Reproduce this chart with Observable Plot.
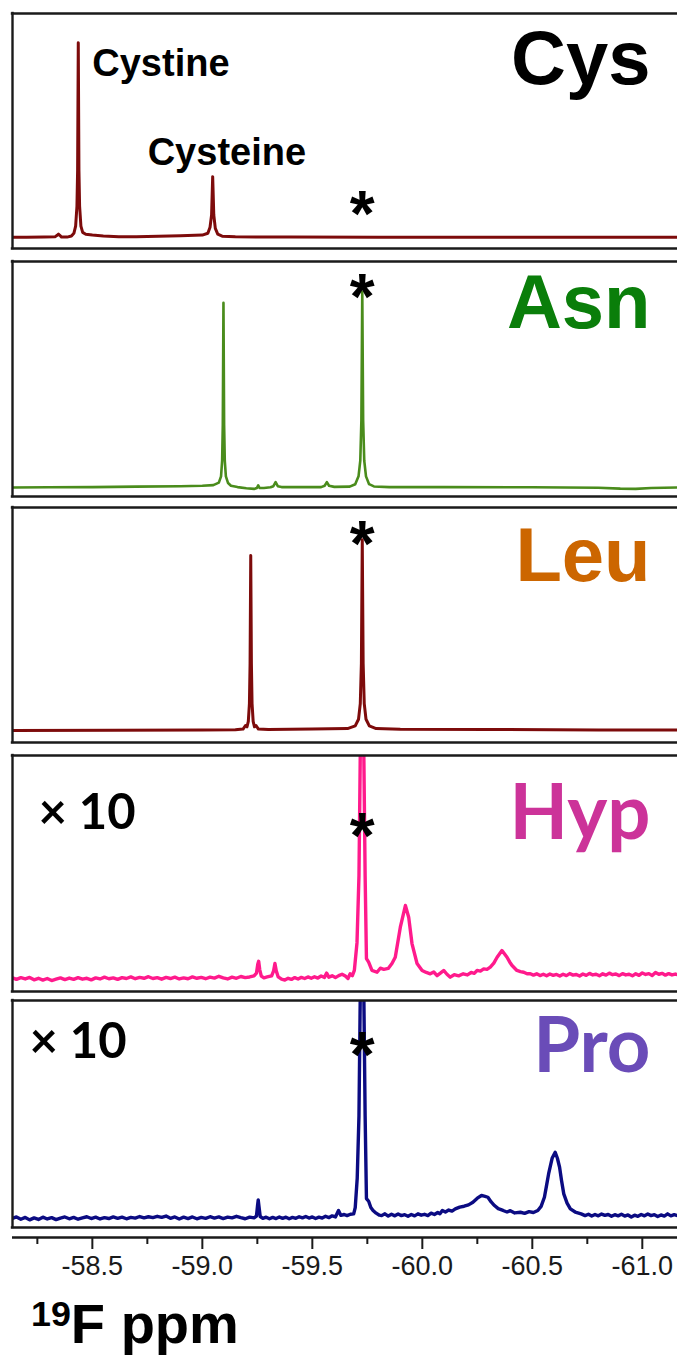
<!DOCTYPE html>
<html><head><meta charset="utf-8">
<script src="https://cdn.jsdelivr.net/npm/d3@7"></script>
<script src="https://cdn.jsdelivr.net/npm/@observablehq/plot@0.6"></script>
<style>
body{margin:0;background:#fff;}
#chart{position:relative;width:677px;height:1355px;overflow:hidden;background:#fff;}
#chart svg{position:absolute;left:0;overflow:visible;}
#xlabel{position:absolute;left:31px;top:1296px;font:bold 56px "Liberation Sans",Arial,sans-serif;line-height:56px;color:#000;white-space:nowrap;}
#xlabel span{font-size:0.64em;position:relative;top:-17px;}
</style></head><body><div id="chart"><div id="xlabel"><span>19</span>F ppm</div></div>
<script>
// ---------- data ----------
const ppmDomain = [-58.137, -61.16];
const majorTicks = [-58.5, -59.0, -59.5, -60.0, -60.5, -61.0];
const majorTickLabels = ["-58.5", "-59.0", "-59.5", "-60.0", "-60.5", "-61.0"];
const minorTicks = [-58.25, -58.75, -59.25, -59.75, -60.25, -60.75];
const panelNames = ["Cys", "Asn", "Leu", "Hyp", "Pro"];
const scaleLabels = ["", "", "", "× 10", "× 10"];
const referencePeak = -59.727; // marked with *
const cystinePeak = -58.436;
const cysteinePeak = -59.047;

const cysSpectrum = [
[-58.137,0.0],[-58.20,0.0],[-58.28,0.1],[-58.33,0.2],[-58.340,0.9],[-58.346,1.4],[-58.352,0.9],[-58.360,0.1],[-58.385,0.1],[-58.405,0.6],[-58.416,1.8],[-58.424,5],[-58.430,14],[-58.433,30],[-58.436,86.9],[-58.439,30],[-58.442,14],[-58.448,5],[-58.456,2.2],[-58.47,1.4],[-58.50,1.0],[-58.55,0.6],[-58.62,0.2],[-58.70,0.3],[-58.80,0.5],[-58.90,0.7],[-59.00,1.0],[-59.025,1.8],[-59.035,4.5],[-59.042,10],[-59.047,27.1],[-59.052,10],[-59.059,4],[-59.07,1.4],[-59.09,0.5],[-59.15,0.2],[-59.40,0.1],[-59.80,0.0],[-60.40,0.0],[-61.16,0.0]
];
const asnSpectrum = [
[-58.137,0.0],[-58.30,0.1],[-58.50,0.2],[-58.70,0.4],[-58.90,0.6],[-59.00,0.8],[-59.05,1.1],[-59.075,2.2],[-59.085,5],[-59.090,12],[-59.093,28],[-59.096,82.6],[-59.099,28],[-59.102,12],[-59.107,5],[-59.117,2.0],[-59.13,0.8],[-59.16,0.2],[-59.20,-0.3],[-59.235,-0.6],[-59.248,-0.2],[-59.254,1.0],[-59.260,-0.2],[-59.28,-0.2],[-59.31,0.1],[-59.323,0.6],[-59.333,2.4],[-59.343,0.6],[-59.36,0.2],[-59.45,0.2],[-59.54,0.2],[-59.556,0.8],[-59.566,2.4],[-59.576,0.8],[-59.60,0.3],[-59.67,0.4],[-59.695,1.5],[-59.710,5],[-59.718,12],[-59.723,30],[-59.727,87.5],[-59.731,30],[-59.736,12],[-59.744,5],[-59.758,1.5],[-59.78,0.5],[-59.85,0.2],[-60.10,0.2],[-60.50,0.1],[-60.80,-0.1],[-60.90,-0.5],[-60.97,-0.6],[-61.04,-0.2],[-61.16,0.0]
];
const leuSpectrum = [
[-58.137,0.0],[-58.60,0.1],[-59.00,0.2],[-59.15,0.3],[-59.185,0.6],[-59.196,2.2],[-59.203,1.6],[-59.209,4],[-59.214,12],[-59.217,30],[-59.220,78.2],[-59.223,30],[-59.226,12],[-59.231,4],[-59.237,1.6],[-59.244,2.2],[-59.255,0.6],[-59.30,0.4],[-59.50,0.6],[-59.66,0.8],[-59.695,2.0],[-59.710,5],[-59.718,12],[-59.723,30],[-59.727,85.2],[-59.731,30],[-59.736,12],[-59.744,5],[-59.759,2.0],[-59.79,0.8],[-59.90,0.5],[-60.30,0.4],[-60.80,0.2],[-61.16,0.2]
];
const hypSpectrum = [
[-58.137,-0.6],[-58.155,-1.3],[-58.175,-0.5],[-58.195,-1.1],[-58.215,-0.4],[-58.235,-1.5],[-58.255,-0.8],[-58.275,-1.6],[-58.295,-0.9],[-58.315,-1.8],[-58.335,-1.2],[-58.355,-0.6],[-58.375,-1.4],[-58.395,-0.7],[-58.415,-1.3],[-58.435,-0.5],[-58.455,-1.2],[-58.475,-0.8],[-58.495,-1.5],[-58.515,-0.6],[-58.535,-1.1],[-58.555,-0.3],[-58.575,-1.0],[-58.595,-0.6],[-58.615,-1.3],[-58.635,-0.5],[-58.655,-0.9],[-58.675,-0.2],[-58.695,-1.0],[-58.715,-0.4],[-58.735,-0.8],[-58.755,-0.1],[-58.775,-0.9],[-58.795,-0.5],[-58.815,-1.2],[-58.835,-0.4],[-58.855,-0.9],[-58.875,-0.3],[-58.895,-1.1],[-58.915,-0.6],[-58.935,-1.0],[-58.955,-0.2],[-58.975,-0.8],[-58.995,-0.4],[-59.015,-1.0],[-59.035,-0.3],[-59.055,-0.7],[-59.075,0.1],[-59.095,-0.6],[-59.115,-1.1],[-59.135,-0.3],[-59.155,-0.8],[-59.175,0.0],[-59.195,-0.5],[-59.215,-0.2],[-59.235,0.3],[-59.246,1.5],[-59.252,5.5],[-59.256,6.8],[-59.261,3.0],[-59.268,0.2],[-59.280,-0.6],[-59.295,-0.2],[-59.315,0.3],[-59.324,2.5],[-59.330,5.8],[-59.336,2.5],[-59.345,-0.2],[-59.360,-1.2],[-59.375,-1.6],[-59.390,-0.8],[-59.405,-1.3],[-59.420,-0.5],[-59.435,-1.1],[-59.450,-0.4],[-59.465,-0.9],[-59.480,-0.2],[-59.495,-0.8],[-59.510,-0.1],[-59.525,-0.7],[-59.540,0.2],[-59.555,-0.4],[-59.565,1.5],[-59.575,-0.3],[-59.590,0.3],[-59.605,-0.5],[-59.620,0.4],[-59.635,1.0],[-59.650,0.2],[-59.662,-0.9],[-59.672,1.2],[-59.682,0.4],[-59.691,2.7],[-59.703,15],[-59.712,45],[-59.718,100],[-59.7205,300],[-59.7315,300],[-59.734,100],[-59.740,45],[-59.746,8.0],[-59.756,6.4],[-59.771,2.7],[-59.794,1.9],[-59.809,3.7],[-59.825,3.2],[-59.845,3.6],[-59.862,5.8],[-59.877,8.6],[-59.900,22],[-59.923,31.7],[-59.938,26.5],[-59.953,14.7],[-59.976,5.8],[-59.999,2.7],[-60.018,1.8],[-60.036,1.2],[-60.052,2.0],[-60.067,0.4],[-60.082,1.5],[-60.097,2.7],[-60.112,1.0],[-60.127,-0.3],[-60.145,0.8],[-60.165,0.3],[-60.186,1.2],[-60.205,0.7],[-60.222,1.8],[-60.236,1.4],[-60.249,2.7],[-60.264,2.4],[-60.279,3.4],[-60.294,3.2],[-60.309,4.2],[-60.325,6.0],[-60.340,8.6],[-60.362,11.6],[-60.374,10.0],[-60.385,8.6],[-60.397,6.5],[-60.408,4.9],[-60.430,2.7],[-60.446,2.2],[-60.461,1.9],[-60.476,1.2],[-60.491,1.2],[-60.505,0.6],[-60.52,1.2],[-60.535,0.4],[-60.55,1.0],[-60.565,0.3],[-60.58,1.1],[-60.595,0.5],[-60.61,0.9],[-60.625,0.2],[-60.64,1.0],[-60.655,0.4],[-60.67,1.3],[-60.685,0.6],[-60.70,0.9],[-60.715,0.2],[-60.73,1.1],[-60.745,0.5],[-60.76,1.4],[-60.775,0.7],[-60.79,1.0],[-60.805,0.3],[-60.82,1.2],[-60.835,0.6],[-60.85,1.5],[-60.865,0.8],[-60.88,1.1],[-60.895,0.4],[-60.91,1.3],[-60.925,0.7],[-60.94,1.0],[-60.955,0.3],[-60.97,1.2],[-60.985,0.5],[-61.00,1.6],[-61.015,0.9],[-61.03,1.3],[-61.045,0.4],[-61.06,1.8],[-61.075,1.0],[-61.09,1.4],[-61.105,0.6],[-61.12,1.3],[-61.135,0.7],[-61.15,1.1],[-61.16,0.8]
];
const proSpectrum = [
[-58.137,-0.8],[-58.155,-0.2],[-58.175,-1.2],[-58.195,-0.4],[-58.215,-1.5],[-58.235,-0.6],[-58.255,-1.3],[-58.275,-0.3],[-58.295,-1.1],[-58.315,-0.5],[-58.335,-1.4],[-58.355,-0.7],[-58.375,-0.2],[-58.395,-1.0],[-58.415,-0.4],[-58.435,-1.2],[-58.455,-0.6],[-58.475,-0.1],[-58.495,-0.9],[-58.515,-0.3],[-58.535,-1.1],[-58.555,-0.5],[-58.575,-0.9],[-58.595,-0.2],[-58.615,-0.8],[-58.635,-0.3],[-58.655,-1.0],[-58.675,-0.4],[-58.695,-0.7],[-58.715,0.0],[-58.735,-0.6],[-58.755,-0.1],[-58.775,-0.5],[-58.795,0.1],[-58.815,-0.4],[-58.835,0.2],[-58.855,-0.8],[-58.875,-0.2],[-58.895,-1.1],[-58.915,-0.3],[-58.935,-0.9],[-58.955,-0.2],[-58.975,-1.0],[-58.995,-0.4],[-59.015,-0.8],[-59.035,-0.1],[-59.055,-0.7],[-59.075,-0.2],[-59.095,-0.9],[-59.115,-0.3],[-59.135,-0.6],[-59.155,0.1],[-59.175,-0.5],[-59.195,-1.0],[-59.215,-0.3],[-59.235,-0.6],[-59.246,0.2],[-59.251,5.0],[-59.254,7.4],[-59.258,4.0],[-59.263,0.0],[-59.275,-0.8],[-59.29,-0.3],[-59.305,-1.0],[-59.32,-0.4],[-59.335,-0.9],[-59.35,-0.2],[-59.365,-0.8],[-59.38,-0.3],[-59.395,-1.0],[-59.41,-0.4],[-59.425,-0.8],[-59.44,-0.1],[-59.455,-0.6],[-59.47,0.0],[-59.485,-0.7],[-59.50,-0.2],[-59.515,-0.9],[-59.53,-0.3],[-59.545,-0.7],[-59.56,0.1],[-59.575,-0.5],[-59.59,0.3],[-59.605,-0.2],[-59.619,2.7],[-59.63,0.5],[-59.645,0.9],[-59.658,0.4],[-59.673,1.0],[-59.688,1.2],[-59.695,4.0],[-59.704,17],[-59.712,45],[-59.718,100],[-59.7205,300],[-59.7315,300],[-59.734,100],[-59.740,45],[-59.746,8.0],[-59.756,6.8],[-59.766,4.0],[-59.776,2.7],[-59.79,1.5],[-59.805,0.6],[-59.815,0.4],[-59.83,1.2],[-59.845,0.2],[-59.86,1.0],[-59.875,0.3],[-59.89,1.1],[-59.905,0.4],[-59.92,0.8],[-59.935,0.1],[-59.95,0.9],[-59.965,0.3],[-59.98,1.2],[-59.995,0.6],[-60.01,1.0],[-60.025,0.4],[-60.04,1.5],[-60.055,0.9],[-60.07,1.8],[-60.08,1.2],[-60.091,2.7],[-60.105,2.0],[-60.12,2.9],[-60.135,2.4],[-60.15,3.4],[-60.17,4.2],[-60.19,4.6],[-60.21,5.2],[-60.23,6.4],[-60.25,8.2],[-60.269,9.4],[-60.285,9.0],[-60.298,8.6],[-60.313,6.5],[-60.328,4.9],[-60.345,3.5],[-60.367,2.7],[-60.385,2.0],[-60.40,2.6],[-60.42,1.6],[-60.446,1.9],[-60.465,1.4],[-60.485,2.2],[-60.505,1.8],[-60.525,2.7],[-60.540,4.5],[-60.555,8.6],[-60.565,14],[-60.574,19],[-60.590,26],[-60.604,28.7],[-60.614,26],[-60.624,22],[-60.633,16],[-60.643,10.1],[-60.658,6.0],[-60.673,3.4],[-60.695,2.0],[-60.722,1.2],[-60.74,0.4],[-60.755,1.0],[-60.77,0.2],[-60.785,0.9],[-60.80,0.3],[-60.815,1.1],[-60.83,0.5],[-60.845,0.9],[-60.86,0.1],[-60.875,0.8],[-60.89,0.3],[-60.905,1.0],[-60.92,0.2],[-60.935,0.7],[-60.95,-0.2],[-60.965,0.6],[-60.98,0.1],[-60.995,0.9],[-61.01,0.3],[-61.025,1.1],[-61.04,0.4],[-61.055,0.8],[-61.07,0.0],[-61.085,0.7],[-61.10,0.2],[-61.115,1.2],[-61.13,0.3],[-61.145,0.8],[-61.16,0.4]
];
const spectra = [cysSpectrum, asnSpectrum, leuSpectrum, hypSpectrum, proSpectrum];

// ---------- styles & layout ----------
const lineColors = ["#7d0b0b", "#4a8c1c", "#7d0b0b", "#ff1a8c", "#0b0b82"];
const lineWidths = [3, 2.6, 3, 3.4, 3.4];
const nameColors = ["#000000", "#0a7e0a", "#cc6600", "#cc3399", "#6a4cb8"];
const nameFonts = ['"Liberation Sans", Arial, sans-serif', '"Liberation Sans", Arial, sans-serif', '"Liberation Sans", Arial, sans-serif', 'Lato, "Open Sans", sans-serif', 'Lato, "Open Sans", sans-serif'];
const layout = [
  {top: 13,   bottom: 248,  y: [-5, 100],     nameDy: 70, starDy: 222},
  {top: 261,  bottom: 496,  y: [-4, 101],     nameDy: 66, starDy: 57},
  {top: 507,  bottom: 742,  y: [-5.4, 99.6],  nameDy: 73, starDy: 58},
  {top: 755,  bottom: 991,  y: [-6.7, 98.7],  nameDy: 83, starDy: 102, scaleDx: 26, scaleDy: 73},
  {top: 1000, bottom: 1227, y: [-4.9, 96.4],  nameDy: 71, starDy: 76, scaleDx: 17, scaleDy: 57}
];
const FRAME = "#1a1a1a";
const ARIAL = '"Liberation Sans", Arial, sans-serif';
const chart = document.getElementById("chart");

layout.forEach((L, i) => {
  const mt = 30, mb = 30;
  const marks = [
    Plot.line(spectra[i], {x: d => d[0], y: d => d[1], stroke: lineColors[i], strokeWidth: lineWidths[i], clip: true, strokeLinejoin: "round"}),
    Plot.ruleY([L.y[0], L.y[1]], {stroke: FRAME, strokeWidth: 2.4, strokeLinecap: "square"}),
    Plot.ruleX([ppmDomain[0]], {stroke: FRAME, strokeWidth: 2.4, strokeLinecap: "square"}),
    Plot.text([panelNames[i]], {text: d => d, frameAnchor: "top-right", textAnchor: "end", lineAnchor: "bottom", dx: -27, dy: L.nameDy,
      fill: nameColors[i], fontSize: 76, fontWeight: "bold", fontFamily: nameFonts[i]}),
    Plot.text([referencePeak], {x: d => d, text: () => "*", frameAnchor: "top", lineAnchor: "bottom", dy: L.starDy,
      fill: "#000", fontSize: 64, fontWeight: "bold", fontFamily: ARIAL})
  ];
  if (scaleLabels[i]) {
    marks.push(Plot.text([scaleLabels[i]], {text: d => d, frameAnchor: "top-left", textAnchor: "start", lineAnchor: "bottom",
      dx: L.scaleDx, dy: L.scaleDy, fill: "#000", fontSize: 49, fontWeight: "bold", fontFamily: 'Lato, "Open Sans", sans-serif'}));
  }
  if (i === 0) {
    marks.push(Plot.text(["Cystine"], {x: () => cystinePeak, text: d => d, frameAnchor: "top", textAnchor: "start", lineAnchor: "bottom",
      dx: 14, dy: 62, fill: "#000", fontSize: 38, fontWeight: "bold", fontFamily: ARIAL}));
    marks.push(Plot.text(["Cysteine"], {x: () => cysteinePeak, text: d => d, frameAnchor: "top", textAnchor: "start", lineAnchor: "bottom",
      dx: -65, dy: 151, fill: "#000", fontSize: 38, fontWeight: "bold", fontFamily: ARIAL}));
  }
  const svg = Plot.plot({
    width: 677, height: (L.bottom - L.top) + mt + mb,
    marginTop: mt, marginBottom: mb, marginLeft: 12, marginRight: 0,
    x: {domain: ppmDomain, axis: null},
    y: {domain: L.y, axis: null},
    style: {background: "transparent", overflow: "visible"},
    marks
  });
  svg.style.top = (L.top - mt) + "px";
  chart.appendChild(svg);
});

// x axis
const axisSvg = Plot.plot({
  width: 677, height: 70, marginTop: 2, marginBottom: 66, marginLeft: 12, marginRight: 0,
  x: {domain: ppmDomain, label: null},
  y: {domain: [0, 1], axis: null},
  style: {background: "transparent", overflow: "visible", fontFamily: ARIAL, fontSize: "27px", color: "#1a1a1a"},
  marks: [
    Plot.ruleY([0], {stroke: FRAME, strokeWidth: 2.4}),
    Plot.axisX({ticks: minorTicks, tickSize: 7, tickFormat: () => "", strokeWidth: 2, label: null}),
    Plot.axisX({ticks: majorTicks, tickSize: 12, tickPadding: 6, strokeWidth: 2, label: null,
      tickFormat: d => majorTickLabels[majorTicks.indexOf(d)], fontSize: 27})
  ]
});
axisSvg.style.top = (1237 - 4) + "px";
chart.appendChild(axisSvg);
</script>
</body></html>
